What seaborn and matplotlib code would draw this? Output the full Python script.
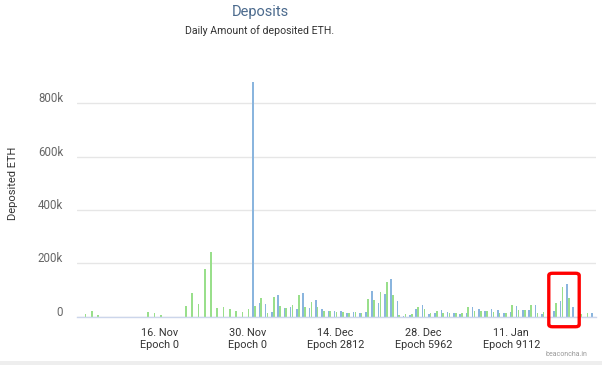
import matplotlib
matplotlib.use("Agg")
import matplotlib.pyplot as plt
import seaborn as sns
import pandas as pd
from matplotlib.patches import FancyBboxPatch, Rectangle
from matplotlib.transforms import ScaledTranslation

# --- Data (thousands of ETH per day) ---
days = pd.date_range("2020-11-04", "2021-01-24", freq="D").strftime("%Y-%m-%d").tolist()

# green series: deposits into the ETH1 deposit contract
eth1_k = [
    # Nov 4 - Nov 30
    10, 20, 7, 0, 0, 0, 0, 0, 0, 0, 17, 13, 6, 0, 0, 0, 39, 89, 47, 177,
    242, 32, 36, 27, 21, 17, 27,
    # Dec
    39, 69, 12, 72, 39, 32, 43, 81, 37, 56, 34, 21, 21, 18, 18, 14, 18, 15,
    66, 62, 93, 128, 81, 6, 8, 8, 37, 27, 12, 21, 12,
    # Jan 1 - Jan 24
    12, 12, 12, 34, 21, 21, 21, 18, 12, 15, 43, 24, 24, 43, 12, 18, 0, 52,
    112, 68, 0, 8, 15, 0,
]

# blue series: deposits processed on the beacon chain
eth2_k = [
    # Nov 4 - Nov 30
    0, 0, 0, 0, 0, 0, 0, 0, 0, 0, 0, 0, 0, 0, 0, 0, 0, 0, 0, 0,
    0, 0, 0, 0, 0, 0, 0,
    # Dec
    880, 49, 47, 17, 79, 33, 34, 27, 89, 31, 62, 27, 21, 21, 21, 15, 18, 15,
    18, 94, 52, 84, 142, 59, 3, 7, 29, 42, 8, 13, 23,
    # Jan 1 - Jan 24
    18, 12, 10, 12, 34, 27, 21, 27, 24, 12, 18, 41, 24, 24, 43, 8, 0, 21,
    58, 122, 34, 0, 0, 15,
]

tick_days = ["2020-11-16", "2020-11-30", "2020-12-14", "2020-12-28", "2021-01-11"]
tick_labels = ["16. Nov\nEpoch 0", "30. Nov\nEpoch 0", "14. Dec\nEpoch 2812",
               "28. Dec\nEpoch 5962", "11. Jan\nEpoch 9112"]
y_ticks = [0, 200000, 400000, 600000, 800000]
y_tick_labels = ["0", "200k", "400k", "600k", "800k"]

BLUE = "#7cb5ec"
GREEN = "#90ed7d"

df = pd.DataFrame({"day": days, "eth2": [v * 1000 for v in eth2_k],
                   "eth1": [v * 1000 for v in eth1_k]})
long_df = df.melt(id_vars="day", var_name="series", value_name="eth")

sns.set_style("white")
plt.rcParams["font.family"] = ["Roboto", "DejaVu Sans"]

W, H = 602, 365
fig = plt.figure(figsize=(W / 100, H / 100), dpi=100)
fig.patch.set_facecolor("white")

# plot area in pixel terms: left 77, right 596, zero line 316.5, top 50
ax = fig.add_axes([77 / W, 1 - 316.5 / H, (596 - 77) / W, (316.5 - 50) / H])

sns.barplot(
    data=long_df, x="day", y="eth", hue="series",
    order=days, hue_order=["eth2", "eth1"],
    palette={"eth2": BLUE, "eth1": GREEN},
    width=0.6, gap=0.15, errorbar=None, linewidth=0,
    legend=False, ax=ax,
)

ax.set_xlim(-1.2, len(days) - 0.5)
ax.set_ylim(0, 1000000)
ax.set_yticks(y_ticks)
ax.set_yticklabels(y_tick_labels)
ax.set_xticks([days.index(d) for d in tick_days])
ax.set_xticklabels(tick_labels)
ax.set_xlabel("")
ax.set_ylabel("")

ax.grid(axis="y", color="#e6e6e6", lw=1)
ax.grid(axis="x", visible=False)
ax.set_axisbelow(True)
for s in ["top", "right", "left"]:
    ax.spines[s].set_visible(False)
ax.spines["bottom"].set_color("#ccd6eb")
ax.spines["bottom"].set_linewidth(1)

ax.tick_params(axis="y", length=0, pad=10, labelsize=8.3, labelcolor="#666666")
ax.tick_params(axis="x", length=6.5, width=1, color="#ccd6eb", pad=2,
               labelsize=7.8, labelcolor="#333333")

for t in ax.get_xticklabels():
    t.set_linespacing(1.15)
# highcharts puts the y labels a little above their grid lines
for t in ax.get_yticklabels():
    t.set_transform(t.get_transform() + ScaledTranslation(0, 6 / 100, fig.dpi_scale_trans))

# titles and texts
fig.text(260 / W, 1 - 12 / H, "Deposits", ha="center", va="center",
         fontsize=10.5, color="#4b6a8d")
fig.text(260 / W, 1 - 31 / H, "Daily Amount of deposited ETH.", ha="center",
         va="center", fontsize=7.6, color="#333333")
fig.text(13 / W, 1 - 183 / H, "Deposited ETH", rotation=90, ha="center",
         va="center", fontsize=8, color="#333333")
fig.text(587 / W, 1 - 355 / H, "beaconcha.in", ha="right", va="center",
         fontsize=5, color="#999999")

# hand drawn red highlight box around the last peak
box = FancyBboxPatch((550 / W, 1 - 326 / H), 28 / W, 52 / H,
                     boxstyle="round,pad=0.002,rounding_size=0.006",
                     transform=fig.transFigure, fill=False,
                     edgecolor="#ff0000", linewidth=2.4, clip_on=False)
fig.patches.append(box)

# grey strip at the very bottom of the screenshot
fig.patches.append(Rectangle((0, 0), 1, 4 / H, transform=fig.transFigure,
                             facecolor="#eeeeee", edgecolor="none"))

fig.savefig("out.png", dpi=100)
plt.close(fig)
